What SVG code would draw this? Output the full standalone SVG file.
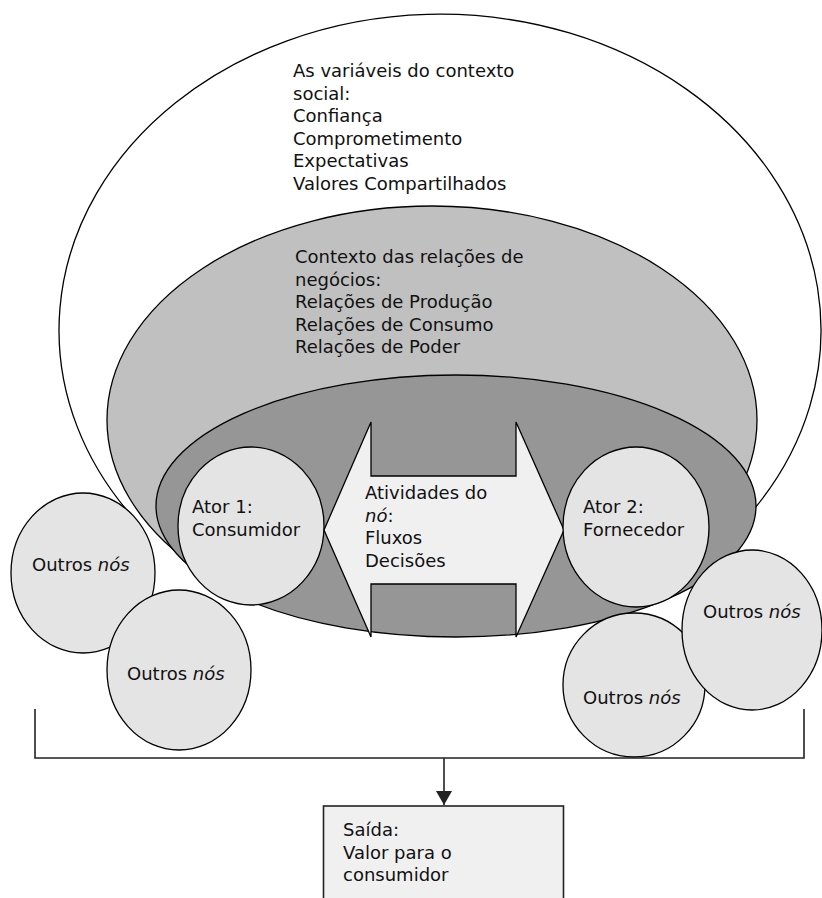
<svg xmlns="http://www.w3.org/2000/svg" width="822" height="898" viewBox="0 0 822 898">
<style>
.o{stroke:#000;stroke-width:1.3}
.t{font-family:"DejaVu Sans","Verdana",sans-serif;font-size:18px;fill:#111}
.i{font-style:italic}
.c{fill:#e4e4e4}
</style>
<defs>
<marker id="ah" markerWidth="14" markerHeight="16" refX="14" refY="8" orient="auto" markerUnits="userSpaceOnUse">
<path d="M0,0 L14,8 L0,16 Z" fill="#222"/>
</marker>
</defs>
<rect width="822" height="898" fill="#fff"/>
<g id="social">
<ellipse cx="440" cy="330" rx="381" ry="316" fill="#fff"/>
<path class="o" d="M140,525 A381,316 0 1 1 755,508" fill="none"/>
<text class="t" x="293"><tspan x="293" y="77">As variáveis do contexto</tspan><tspan x="293" y="99.5">social:</tspan><tspan x="293" y="122">Confiança</tspan><tspan x="293" y="144.5">Comprometimento</tspan><tspan x="293" y="167">Expectativas</tspan><tspan x="293" y="189.5">Valores Compartilhados</tspan></text>
</g>
<g id="negocios">
<ellipse class="o" cx="432" cy="420" rx="325" ry="214" fill="#c0c0c0"/>
<text class="t"><tspan x="295" y="263">Contexto das relações de</tspan><tspan x="295" y="285.5">negócios:</tspan><tspan x="295" y="308">Relações de Produção</tspan><tspan x="295" y="330.5">Relações de Consumo</tspan><tspan x="295" y="353">Relações de Poder</tspan></text>
</g>
<g id="no">
<ellipse class="o" cx="456" cy="506" rx="300" ry="131" fill="#969696"/>
</g>
<g id="atividades">
<polygon class="o" points="324,530 371,422 371,476 516,476 516,422 564,530 516,637 516,584 371,584 371,637" fill="#f0f0f0" stroke-width="1.6"/>
<text class="t"><tspan x="365" y="499">Atividades do</tspan><tspan x="365" y="521.5"><tspan class="i">nó</tspan>:</tspan><tspan x="365" y="544">Fluxos</tspan><tspan x="365" y="566.5">Decisões</tspan></text>
</g>
<g id="ator1">
<ellipse class="o c" cx="251" cy="526" rx="73" ry="79"/>
<text class="t"><tspan x="192" y="513">Ator 1:</tspan><tspan x="192" y="535.5">Consumidor</tspan></text>
</g>
<g id="ator2">
<ellipse class="o c" cx="636" cy="527" rx="73" ry="80"/>
<text class="t"><tspan x="583" y="513">Ator 2:</tspan><tspan x="583" y="535.5">Fornecedor</tspan></text>
</g>
<g id="outros1">
<ellipse class="o c" cx="83" cy="573" rx="72" ry="80"/>
<text class="t" x="32" y="571">Outros <tspan class="i">nós</tspan></text>
</g>
<g id="outros2">
<ellipse class="o c" cx="179" cy="670" rx="72" ry="80"/>
<text class="t" x="127" y="680">Outros <tspan class="i">nós</tspan></text>
</g>
<g id="outros3">
<ellipse class="o c" cx="634" cy="685" rx="71" ry="72"/>
<text class="t" x="583" y="704">Outros <tspan class="i">nós</tspan></text>
</g>
<g id="outros4">
<ellipse class="o c" cx="752" cy="630" rx="70" ry="80"/>
<text class="t" x="703" y="618">Outros <tspan class="i">nós</tspan></text>
</g>
<g id="connectors" fill="none" stroke="#222" stroke-width="1.6">
<polyline points="35,709 35,758 804,758 804,709"/>
<line x1="444" y1="758" x2="444" y2="805" marker-end="url(#ah)"/>
</g>
<g id="saida">
<rect x="323.5" y="806" width="240" height="100" fill="#f0f0f0" stroke="#222" stroke-width="1.6"/>
<text class="t"><tspan x="343" y="836">Saída:</tspan><tspan x="343" y="858.5">Valor para o</tspan><tspan x="343" y="881">consumidor</tspan></text>
</g>
</svg>
